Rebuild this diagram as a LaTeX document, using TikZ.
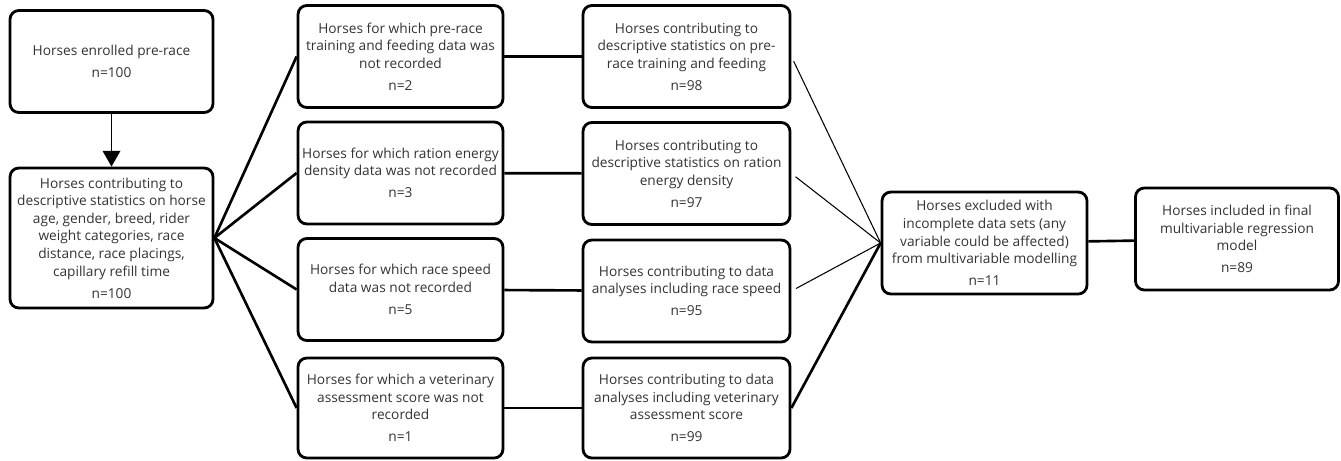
\documentclass[tikz,border=0pt]{standalone}
\usepackage{fontspec}
\setmainfont{Open Sans}
\usetikzlibrary{arrows.meta}

\begin{document}
\begin{tikzpicture}[x=0.02cm,y=-0.02cm,
        box/.style={draw,line width=1.6pt,rounded corners=5pt,align=center,inner sep=1pt,
            minimum width=4.1cm,minimum height=2.04cm,text=black!80,
            font=\fontsize{7.8}{10}\selectfont},
        link/.style={line width=1.5pt},
        thinlink/.style={line width=0.6pt,shorten <=3pt},
        arrow/.style={line width=1.1pt,-{Triangle[width=10pt,length=9pt]}}
    ]
        \useasboundingbox (0,0) rectangle (1341,460);

        % Define the nodes
        \node[box,minimum width=4.06cm] (enrolled) at (111.5,61.5) {Horses enrolled pre-race\\[2.5pt]n=100};
        \node[box,minimum width=4.06cm,minimum height=2.8cm] (base) at (111.5,238) {Horses contributing to\\descriptive statistics on horse\\age, gender, breed, rider\\weight categories, race\\distance, race placings,\\capillary refill time\\[2.5pt]n=100};

        \node[box] (miss1) at (400.5,56.5) {Horses for which pre-race\\training and feeding data was\\not recorded\\[2.5pt]n=2};
        \node[box] (miss2) at (400.5,173) {Horses for which ration energy\\density data was not recorded\\[2.5pt]n=3};
        \node[box] (miss3) at (400.5,289.5) {Horses for which race speed\\data was not recorded\\[2.5pt]n=5};
        \node[box,minimum height=2cm] (miss4) at (400.5,408) {Horses for which a veterinary\\assessment score was not\\recorded\\[2.5pt]n=1};

        \node[box,minimum width=4.14cm] (used1) at (686.5,56.5) {Horses contributing to\\descriptive statistics on pre-\\race training and feeding\\[2.5pt]n=98};
        \node[box,minimum width=4.14cm] (used2) at (686.5,173.5) {Horses contributing to\\descriptive statistics on ration\\energy density\\[2.5pt]n=97};
        \node[box,minimum width=4.14cm] (used3) at (686.5,291) {Horses contributing to data\\analyses including race speed\\[2.5pt]n=95};
        \node[box,minimum width=4.14cm,minimum height=2cm] (used4) at (686.5,408) {Horses contributing to data\\analyses including veterinary\\assessment score\\[2.5pt]n=99};

        \node[box] (excluded) at (984.5,243) {Horses excluded with\\incomplete data sets (any\\variable could be affected)\\from multivariable modelling\\[2.5pt]n=11};
        \node[box,minimum width=4.06cm] (final) at (1237,239) {Horses included in final\\multivariable regression\\model\\[2.5pt]n=89};

        % Connect them
        \draw[arrow] (enrolled) -- (base);
        \foreach \i in {1,2,3,4} {
            \draw[link] (base.east) -- (miss\i.west);
            \draw[link] (miss\i) -- (used\i);
        }
        \foreach \i in {1,2,3} {
            \draw[thinlink] (used\i.east) -- (excluded.west);
        }
        \draw[link] (used4.east) -- (excluded.west);
        \draw[link] (excluded) -- (final);
    \end{tikzpicture}
\end{document}
